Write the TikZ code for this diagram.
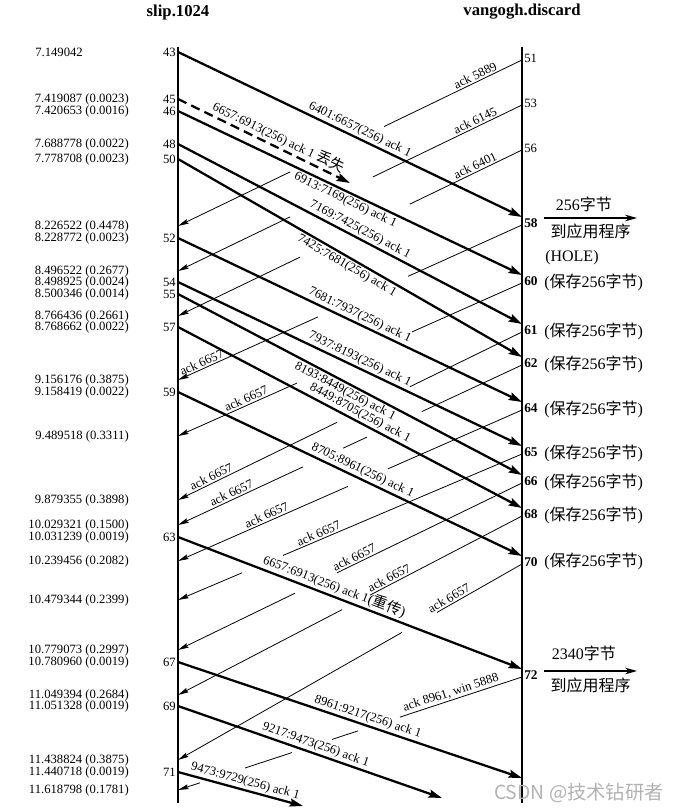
\documentclass[tikz,border=0pt]{standalone}
\usepackage{fontspec}
\setmainfont{Liberation Serif}
\newfontfamily\cjkfont{Noto Sans CJK SC}
\usetikzlibrary{arrows.meta,calc}

\newcommand*{\slipx}{178}
\newcommand*{\vanx}{522}
\newcommand*{\zh}[1]{{\cjkfont #1}}

\begin{document}
\begin{tikzpicture}
[
	x=0.75pt, y=-0.75pt,
	font=\fontsize{9.5}{11}\selectfont,
	data/.style={line width=1.7pt,-{Stealth[length=10pt,width=6pt,inset=1.5pt]}},
	ack/.style={line width=0.6pt},
	ackend/.style={ack,-{Stealth[length=8pt,width=3.6pt,inset=1pt]}},
	seglab/.style={sloped,inner sep=1.2pt},
	note/.style={font=\fontsize{12}{14}\selectfont,inner sep=0pt},
	num/.style={inner sep=1.5pt},
]
	\useasboundingbox (0,0) rectangle (680,812);

	% hosts
	\node[font=\bfseries\fontsize{12.5}{14}\selectfont] (slip) at (\slipx,12) {slip.1024};
	\node[font=\bfseries\fontsize{12.5}{14}\selectfont] (vangogh) at (\vanx,12) {vangogh.discard};
	\coordinate (slip top) at (\slipx,47);
	\coordinate (slip bot) at (\slipx,803);
	\coordinate (van top) at (\vanx,47);
	\coordinate (van bot) at (\vanx,803);
	\draw[line width=0.8pt] (slip top) -- (slip bot);
	\draw[line width=0.8pt] (van top) -- (van bot);

	% times at slip
	\node[anchor=west,inner sep=0pt] (t52) at (35,52) {7.149042};
	\foreach \y/\t in {99/7.419087 (0.0023), 111/7.420653 (0.0016), 144/7.688778 (0.0022),
		159/7.778708 (0.0023), 226/8.226522 (0.4478), 238/8.228772 (0.0023),
		271/8.496522 (0.2677), 282/8.498925 (0.0024), 294/8.500346 (0.0014),
		316/8.766436 (0.2661), 327/8.768662 (0.0022), 380/9.156176 (0.3875),
		392/9.158419 (0.0022), 436/9.489518 (0.3311), 500/9.879355 (0.3898),
		525/10.029321 (0.1500), 537/10.031239 (0.0019), 561/10.239456 (0.2082),
		600/10.479344 (0.2399), 650/10.779073 (0.2997), 662/10.780960 (0.0019),
		695/11.049394 (0.2684), 706/11.051328 (0.0019), 760/11.438824 (0.3875),
		772/11.440718 (0.0019), 790/11.618798 (0.1781)}
		\node[anchor=east,inner sep=0pt] (t\y) at (129,\y) {\t};

	% segments sent by slip
	\foreach \n/\y in {43/52,45/99,46/111,48/144,50/159,52/238,54/282,55/294,57/327,59/392,63/537,67/662,69/706,71/772}
	{
		\coordinate (s\n) at (\slipx,\y);
		\node[num,anchor=east] (n\n) at (s\n) {\n};
	}
	\foreach \n/\a/\b in {43/522/217,45/350/183,46/522/275,48/522/324,50/522/357,52/522/402,54/522/446,55/522/475,57/522/508,59/522/556,63/522/669,67/522/778,69/442/798,71/303/806}
		\coordinate (e\n) at (\a,\b);

	\draw[data] (s43) -- (e43) node[seglab,above,pos=0.518] (l43) {6401:6657(256) ack 1};
	\draw[data,dash pattern=on 7pt off 4pt] (s45) -- (e45) node[seglab,above,pos=0.56] (l45) {6657:6913(256) ack 1 {\fontsize{11}{12}\selectfont\zh{丢失}}};
	\draw[data] (s46) -- (e46) node[seglab,below,pos=0.497] (l46) {6913:7169(256) ack 1};
	\draw[data] (s48) -- (e48) node[seglab,above,pos=0.518] (l48) {7169:7425(256) ack 1};
	\draw[data] (s50) -- (e50) node[seglab,below,pos=0.503] (l50) {7425:7681(256) ack 1};
	\draw[data] (s52) -- (e52) node[seglab,above,pos=0.518] (l52) {7681:7937(256) ack 1};
	\draw[data] (s54) -- (e54) node[seglab,above,pos=0.518] (l54) {7937:8193(256) ack 1};
	\draw[data] (s55) -- (e55) node[seglab,below,pos=0.497] (l55) {8193:8449(256) ack 1};
	\draw[data] (s57) -- (e57) node[seglab,above,pos=0.518] (l57) {8449:8705(256) ack 1};
	\draw[data] (s59) -- (e59) node[seglab,above,pos=0.526] (l59) {8705:8961(256) ack 1};
	\draw[data] (s63) -- (e63) node[seglab,above,pos=0.444] (l63) {6657:6913(256) ack 1{\fontsize{11}{12}\selectfont(\zh{重传})}};
	\draw[data] (s67) -- (e67) node[seglab,above,pos=0.544] (l67) {8961:9217(256) ack 1};
	\draw[data] (s69) -- (e69) node[seglab,above,pos=0.511] (l69) {9217:9473(256) ack 1};
	\draw[data] (s71) -- (e71) node[seglab,above,pos=0.52] (l71) {9473:9729(256) ack 1};

	% acks sent by vangogh
	\foreach \n/\a/\b in {51/60/226,53/105/271,56/150/316,58/225/380,60/283/436,61/332/500,62/365/525,64/410/561,65/454/600,66/483/650,68/516/695,70/564/760,72/677/790}
	{
		\coordinate (v\n) at (\vanx,\a);
		\coordinate (k\n) at (\slipx,\b);
	}
	\foreach \n in {51,53,56}
		\node[num,anchor=west,yshift=1.5pt] (m\n) at (v\n) {\n};
	\foreach \n in {58,60,61,62,64,65,66,68,70,72}
		\node[num,anchor=west,yshift=1.5pt,font=\bfseries] (m\n) at (v\n) {\n};

	% breaks in the ack lines
	\coordinate (c51a) at ($(v51)!0.401!(k51)$);
	\coordinate (c51b) at ($(v51)!0.674!(k51)$);
	\coordinate (c53a) at ($(v53)!0.433!(k53)$);
	\coordinate (c53b) at ($(v53)!0.674!(k53)$);
	\coordinate (c56a) at ($(v56)!0.326!(k56)$);
	\coordinate (c56b) at ($(v56)!0.645!(k56)$);
	\coordinate (c58a) at ($(v58)!0.331!(k58)$);
	\coordinate (c58b) at ($(v58)!0.593!(k58)$);
	\coordinate (c60a) at ($(v60)!0.320!(k60)$);
	\coordinate (c60b) at ($(v60)!0.654!(k60)$);
	\coordinate (c61a) at ($(v61)!0.326!(k61)$);
	\coordinate (c61b) at ($(v61)!0.538!(k61)$);
	\coordinate (c62a) at ($(v62)!0.291!(k62)$);
	\coordinate (c62b) at ($(v62)!0.451!(k62)$);
	\coordinate (c62c) at ($(v62)!0.520!(k62)$);
	\coordinate (c62d) at ($(v62)!0.637!(k62)$);
	\coordinate (c64a) at ($(v64)!0.390!(k64)$);
	\coordinate (c64b) at ($(v64)!0.506!(k64)$);
	\coordinate (c65a) at ($(v65)!0.695!(k65)$);
	\coordinate (c65b) at ($(v65)!0.814!(k65)$);
	\coordinate (c66a) at ($(v66)!0.538!(k66)$);
	\coordinate (c66b) at ($(v66)!0.660!(k66)$);
	\coordinate (c68a) at ($(v68)!0.442!(k68)$);
	\coordinate (c68b) at ($(v68)!0.523!(k68)$);
	\coordinate (c70a) at ($(v70)!0.247!(k70)$);
	\coordinate (c70b) at ($(v70)!0.349!(k70)$);
	\coordinate (c72a) at ($(v72)!0.355!(k72)$);
	\coordinate (c72b) at ($(v72)!0.477!(k72)$);
	\coordinate (c72c) at ($(v72)!0.552!(k72)$);
	\coordinate (c72d) at ($(v72)!0.669!(k72)$);
	\coordinate (c72e) at ($(v72)!0.805!(k72)$);
	\coordinate (c72f) at ($(v72)!0.936!(k72)$);

	\draw[ack] (v51) -- (c51a) node[seglab,above,pos=0.319] (a51) {ack 5889};
	\draw[ackend] (c51b) -- (k51);
	\draw[ack] (v53) -- (c53a) node[seglab,above,pos=0.296] (a53) {ack 6145};
	\draw[ackend] (c53b) -- (k53);
	\draw[ack] (v56) -- (c56a) node[seglab,above,pos=0.393] (a56) {ack 6401};
	\draw[ackend] (c56b) -- (k56);
	\draw[ack] (v58) -- (c58a);
	\draw[ackend] (c58b) -- (k58) node[seglab,above,pos=0.813] (a58) {ack 6657};
	\draw[ack] (v60) -- (c60a);
	\draw[ackend] (c60b) -- (k60) node[seglab,above,pos=0.405] (a60) {ack 6657};
	\draw[ack] (v61) -- (c61a);
	\draw[ackend] (c61b) -- (k61) node[seglab,above,pos=0.773] (a61) {ack 6657};
	\draw[ack] (v62) -- (c62a);
	\draw[ack] (c62b) -- (c62c);
	\draw[ackend] (c62d) -- (k62) node[seglab,above,pos=0.551] (a62) {ack 6657};
	\draw[ack] (v64) -- (c64a);
	\draw[ackend] (c64b) -- (k64) node[seglab,above,pos=0.464] (a64) {ack 6657};
	\draw[ack] (v65) -- (c65a) node[seglab,above,pos=0.840] (a65) {ack 6657};
	\draw[ackend] (c65b) -- (k65);
	\draw[ack] (v66) -- (c66a) node[seglab,above,pos=0.892] (a66) {ack 6657};
	\draw[ackend] (c66b) -- (k66);
	\draw[ack] (v68) -- (c68a) node[seglab,above,pos=0.855] (a68) {ack 6657};
	\draw[ackend] (c68b) -- (k68);
	\draw[ack] (v70) -- (c70a) node[seglab,above,pos=0.822] (a70) {ack 6657};
	\draw[ackend] (c70b) -- (k70);
	\draw[ack] (v72) -- (c72a) node[seglab,above,pos=0.563] (a72) {ack 8961, win 5888};
	\draw[ack] (c72b) -- (c72c);
	\draw[ack] (c72d) -- (c72e);
	\draw[ackend] (c72f) -- (k72);

	% what vangogh does with the data
	\coordinate (app1 from) at (544,218);
	\coordinate (app1 to) at (637,218);
	\draw[line width=0.8pt,-{Stealth[length=9pt,width=5pt]}] (app1 from) -- (app1 to)
		node[note,midway,above=4pt,xshift=-5pt] (got1) {256\zh{字节}}
		node[note,midway,below=4pt] (up1) {\zh{到应用程序}};
	\node[note,anchor=west] (hole) at (545,258) {(HOLE)};
	\foreach \n/\y in {60/282,61/331,62/364,64/409,65/453,66/482,68/515,70/561}
		\node[note,anchor=west] (keep\n) at (544,\y) {(\zh{保存}256\zh{字节})};
	\coordinate (app2 from) at (544,671);
	\coordinate (app2 to) at (637,671);
	\draw[line width=0.8pt,-{Stealth[length=9pt,width=5pt]}] (app2 from) -- (app2 to)
		node[note,midway,above=7pt,xshift=-5pt] (got2) {2340\zh{字节}}
		node[note,midway,below=5pt] (up2) {\zh{到应用程序}};

	\node[text=black!30,font=\cjkfont\fontsize{14.5}{16}\selectfont,inner sep=0pt] (mark) at (579,793) {CSDN @技术钻研者};

\end{tikzpicture}
\end{document}
